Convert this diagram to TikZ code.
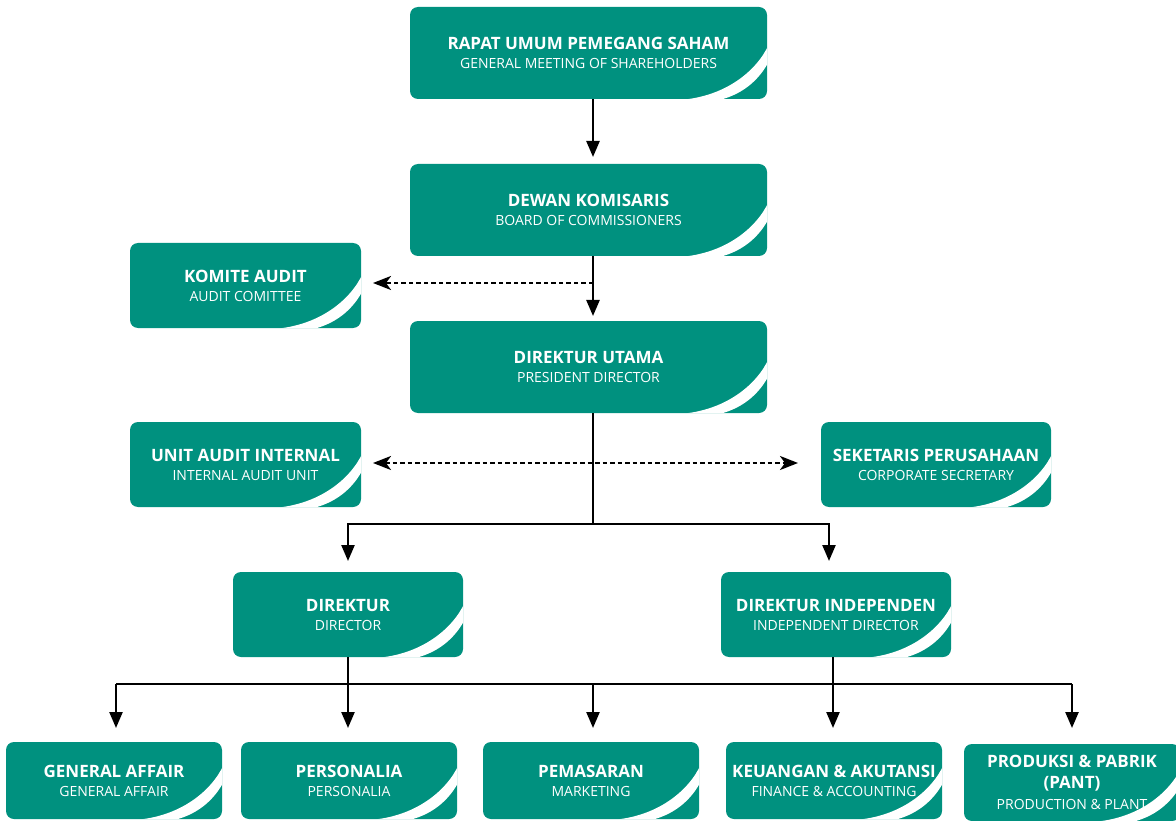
\documentclass[tikz,border=0pt]{standalone}
\usepackage{fontspec}
\setmainfont{Open Sans}
\usetikzlibrary{arrows.meta}
\definecolor{teal0}{HTML}{00917F}
\newcommand{\bt}[1]{{\fontsize{17}{19}\selectfont\bfseries #1}}
\newcommand{\swoosh}[1]{%
  \begin{scope}
    \clip[rounded corners=8pt] (#1.north west) rectangle (#1.south east);
    \fill[white] ([shift={(-88,1)}]#1.south east)
      .. controls ([shift={(-42,-2)}]#1.south east) and ([shift={(-10,-28)}]#1.south east)
      .. ([shift={(2,-55)}]#1.south east)
      -- ([shift={(2,-38)}]#1.south east)
      .. controls ([shift={(-6,-22)}]#1.south east) and ([shift={(-22,-5)}]#1.south east)
      .. ([shift={(-48,1)}]#1.south east) -- cycle;
  \end{scope}}
\begin{document}
\begin{tikzpicture}[x=1pt,y=-1pt,
  orgbox/.style={fill=teal0, rounded corners=8pt, text=white, align=center,
    inner sep=0pt, outer sep=0pt, font=\fontsize{14}{19}\selectfont},
  bigbox/.style={orgbox, minimum width=357pt, minimum height=92pt},
  midbox/.style={orgbox, minimum width=231pt, minimum height=85pt},
  lowbox/.style={orgbox, minimum width=216pt, minimum height=77pt},
  line/.style={line width=2.4pt, black},
  conn/.style={line, -{Triangle[width=13pt,length=16pt]}},
  dashbase/.style={line width=2.5pt, black, dash pattern=on 4.5pt off 3pt},
  dasharrow/.style={dashbase,
    {Stealth[width=14pt,length=18pt,inset=5pt]}-{Stealth[width=14pt,length=18pt,inset=5pt]}},
  dashleft/.style={dashbase, -{Stealth[width=14pt,length=18pt,inset=5pt]}}
]
\useasboundingbox (0,0) rectangle (1176,821);

\node[bigbox] (rups) at (588.5,53) {\bt{RAPAT UMUM PEMEGANG SAHAM}\\GENERAL MEETING OF SHAREHOLDERS};
\node[bigbox] (dk) at (588.5,210) {\bt{DEWAN KOMISARIS}\\BOARD OF COMMISSIONERS};
\node[midbox] (ka) at (245.5,285.5) {\bt{KOMITE AUDIT}\\AUDIT COMITTEE};
\node[bigbox] (du) at (588.5,367) {\bt{DIREKTUR UTAMA}\\PRESIDENT DIRECTOR};
\node[midbox] (uai) at (245.5,464.5) {\bt{UNIT AUDIT INTERNAL}\\INTERNAL AUDIT UNIT};
\node[midbox, minimum width=230pt] (sek) at (936,464.5) {\bt{SEKETARIS PERUSAHAAN}\\CORPORATE SECRETARY};
\node[midbox, minimum width=230pt] (dir) at (348,614.5) {\bt{DIREKTUR}\\DIRECTOR};
\node[midbox, minimum width=230pt] (dind) at (836,614.5) {\bt{DIREKTUR INDEPENDEN}\\INDEPENDENT DIRECTOR};
\node[lowbox] (ga) at (114,780.5) {\bt{GENERAL AFFAIR}\\GENERAL AFFAIR};
\node[lowbox] (per) at (349,780.5) {\bt{PERSONALIA}\\PERSONALIA};
\node[lowbox] (pem) at (591,780.5) {\bt{PEMASARAN}\\MARKETING};
\node[lowbox] (keu) at (834,780.5) {\bt{KEUANGAN \& AKUTANSI}\\FINANCE \& ACCOUNTING};
\node[lowbox, font=\fontsize{14}{21}\selectfont] (pro) at (1072,782.5) {\bt{PRODUKSI \& PABRIK}\\\bt{(PANT)}\\PRODUCTION \& PLANT};

\foreach \n in {rups,dk,ka,du,uai,sek,dir,dind,ga,per,pem,keu,pro} {\swoosh{\n}}

\coordinate (cx) at (593,0);
\coordinate (kx) at (833,0);
\coordinate (j1) at (593,283);
\coordinate (j2) at (593,463);
\coordinate (j3) at (593,524);
\coordinate (j4) at (0,684);

% top chain
\draw[conn, shorten >=7pt] (rups.south -| cx) -- (dk.north -| cx);
\draw[conn, shorten >=5pt] (dk.south -| cx) -- (du.north -| cx);
\draw[dashleft, shorten >=12pt] (j1) -- (ka.east |- j1);
\draw[dasharrow, shorten <=12pt, shorten >=23pt] (uai.east |- j2) -- (sek.west |- j2);

% president director down
\draw[line] (du.south -| cx) -- (j3);
\draw[conn, shorten >=11pt] (j3) -| (dir.north);
\draw[conn, shorten >=11pt] (j3) -| ([xshift=-7pt]dind.north);

% directors to departments
\draw[line] ([xshift=2pt]ga.north |- j4) -- (pro.north |- j4);
\draw[conn, shorten >=14pt] (dir.south) -- (per.north -| dir.south);
\draw[conn, shorten >=14pt] (dind.south -| kx) -- (keu.north -| kx);
\draw[conn, shorten >=14pt] ([xshift=2pt]ga.north |- j4) -- ([xshift=2pt]ga.north);
\draw[conn, shorten >=14pt] (j4 -| cx) -- (pem.north -| cx);
\draw[conn, shorten >=16pt] (pro.north |- j4) -- (pro.north);
\end{tikzpicture}
\end{document}
